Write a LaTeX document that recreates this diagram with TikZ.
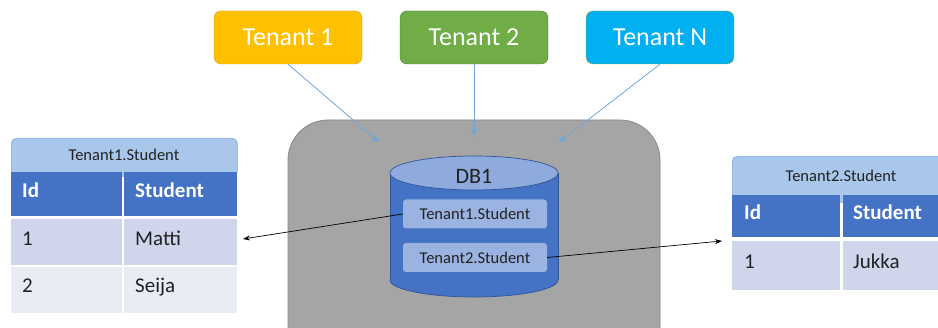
\documentclass[tikz,border=0pt]{standalone}
\usepackage{fontspec}
\setmainfont{Carlito}
\usetikzlibrary{arrows.meta}

\definecolor{tyellow}{HTML}{FFC000}
\definecolor{tyellowb}{HTML}{C9A227}
\definecolor{tgreen}{HTML}{70AD47}
\definecolor{tgreenb}{HTML}{507E32}
\definecolor{tcyan}{HTML}{00B0F0}
\definecolor{link}{HTML}{6FA5DA}
\definecolor{server}{HTML}{A5A5A5}
\definecolor{serverb}{HTML}{8A8A8A}
\definecolor{dbbody}{HTML}{4472C4}
\definecolor{dbtop}{HTML}{8FAADC}
\definecolor{dbline}{HTML}{2F5597}
\definecolor{inner}{HTML}{9BB3E1}
\definecolor{caption}{HTML}{A9C7EB}
\definecolor{captionb}{HTML}{7FAADC}
\definecolor{headrow}{HTML}{4472C4}
\definecolor{rowodd}{HTML}{CFD5EA}
\definecolor{roweven}{HTML}{E9EBF5}
\definecolor{ink}{HTML}{222222}

\tikzset{
  tenant/.style={rounded corners=7pt, minimum width=148pt, minimum height=53pt,
    inner sep=0pt, text=white, font=\fontsize{26}{28}\selectfont},
  feed/.style={draw=link, line width=0.8pt, -{Latex[length=8pt,width=6pt]}},
  link2/.style={draw=black, line width=0.7pt, -{Stealth[length=7pt,width=5pt]}},
  tablepart/.style={rounded corners=3pt, fill=inner, minimum width=144pt,
    minimum height=29pt, inner sep=0pt, text=ink, font=\fontsize{16.5}{18}\selectfont},
  captionbox/.style={draw=captionb, line width=0.6pt, fill=caption, rounded corners=5pt,
    inner sep=0pt, text=ink, font=\fontsize{16.5}{18}\selectfont},
  cell/.style={anchor=north west, inner ysep=0pt, align=left, text height=14pt, text depth=8pt,
    font=\fontsize{21}{23}\selectfont},
  headcell/.style={cell, fill=headrow, text=white, font=\fontsize{21}{23}\selectfont\bfseries},
}

\begin{document}
\begin{tikzpicture}[x=1pt, y=-1pt]
  \clip (0,0) rectangle (938,328);
  \fill[white] (0,0) rectangle (938,328);

  % database server
  \draw[fill=server, draw=serverb, line width=0.8pt, rounded corners=40pt]
    (288,120) rectangle (660,380);

  % tenants
  \node[tenant, fill=tyellow, draw=tyellowb] (t1) at (288,37.5) {Tenant 1};
  \node[tenant, fill=tgreen, draw=tgreenb] (t2) at (474,37.5) {Tenant 2};
  \node[tenant, fill=tcyan, draw=tyellowb] (tn) at (660,37.5) {Tenant N};

  \coordinate (e1) at (380,143);
  \coordinate (e2) at (474,137);
  \coordinate (en) at (558,143);
  \draw[feed] (t1.south) -- (e1);
  \draw[feed] (t2.south) -- (e2);
  \draw[feed] (tn.south) -- (en);

  % database cylinder
  \draw[fill=dbbody, draw=dbline, line width=0.7pt] (474,280) ellipse (84pt and 17pt);
  \fill[dbbody] (390,173) rectangle (558,280);
  \draw[dbline, line width=0.7pt] (390,173) -- (390,280) (558,173) -- (558,280);
  \draw[fill=dbtop, draw=dbline, line width=0.7pt] (474,173) ellipse (84pt and 17pt);
  \node[text=ink, font=\fontsize{22}{24}\selectfont] (db) at (474,176) {DB1};

  \node[tablepart] (s1) at (475,214) {Tenant1.Student};
  \node[tablepart] (s2) at (475,257.5) {Tenant2.Student};

  % left table
  \node[captionbox, minimum width=226pt, minimum height=38pt, anchor=north west]
    (cap1) at (11,138) {};
  \node[text=ink, font=\fontsize{16.5}{18}\selectfont] (cap1t) at (124,154.5) {Tenant1.Student};
  \node[headcell, text width=89pt, inner xsep=11pt, minimum height=44pt] (l-id) at (11,172) {Id};
  \node[headcell, text width=91pt, inner xsep=11pt, minimum height=44pt] (l-st) at (124,172) {Student};
  \node[cell, fill=rowodd, text=ink, text width=89pt, inner xsep=11pt, minimum height=46pt] (l-a1) at (11,219) {1};
  \node[cell, fill=rowodd, text=ink, text width=91pt, inner xsep=11pt, minimum height=46pt] (l-b1) at (124,219) {Matti};
  \node[cell, fill=roweven, text=ink, text width=89pt, inner xsep=11pt, minimum height=46pt] (l-a2) at (11,266.5) {2};
  \node[cell, fill=roweven, text=ink, text width=91pt, inner xsep=11pt, minimum height=46pt] (l-b2) at (124,266.5) {Seija};

  % right table
  \node[captionbox, minimum width=240pt, minimum height=46pt, anchor=north west]
    (cap2) at (732,156) {};
  \node[text=ink, font=\fontsize{16.5}{18}\selectfont] (cap2t) at (841,175.5) {Tenant2.Student};
  \node[headcell, text width=84pt, inner xsep=12pt, minimum height=42pt] (r-id) at (732,195) {Id};
  \node[headcell, text width=100pt, inner xsep=10pt, minimum height=42pt] (r-st) at (843,195) {Student};
  \node[cell, fill=rowodd, text=ink, text width=84pt, inner xsep=12pt, minimum height=49pt] (r-a1) at (732,241) {1};
  \node[cell, fill=rowodd, text=ink, text width=100pt, inner xsep=10pt, minimum height=49pt] (r-b1) at (843,241) {Jukka};

  % tenant tables to their rows
  \coordinate (m1) at (243,239);
  \coordinate (m2) at (722,241);
  \draw[link2] (s1.west) -- (m1);
  \draw[link2] (s2.east) -- (m2);
\end{tikzpicture}
\end{document}
